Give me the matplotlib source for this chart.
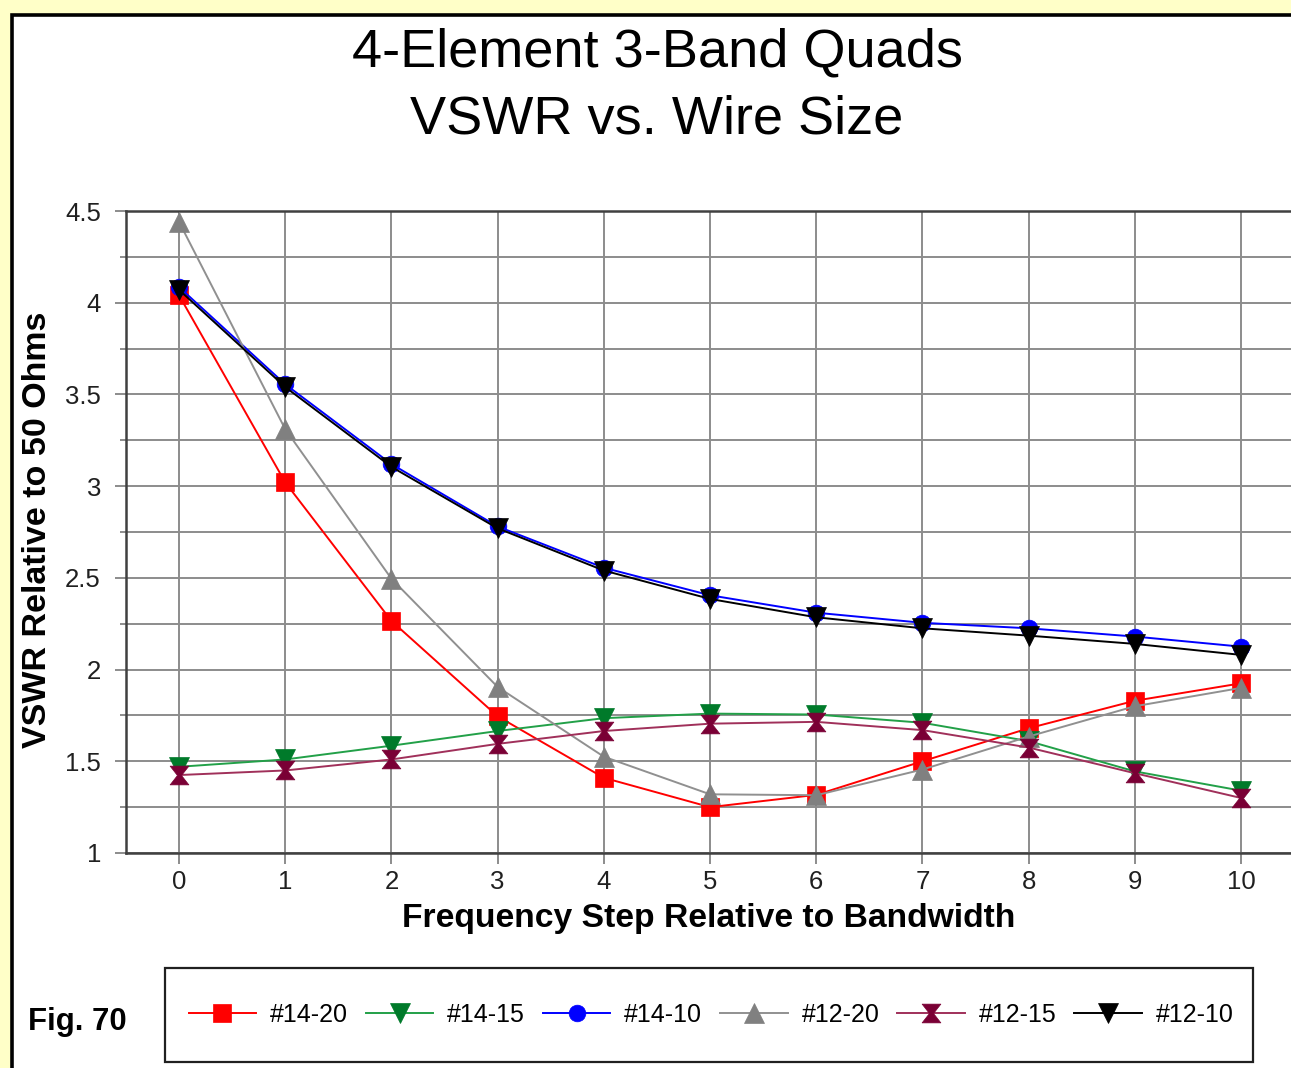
import matplotlib
matplotlib.use("Agg")
import matplotlib.pyplot as plt
from matplotlib.patches import Rectangle
from matplotlib.path import Path
from matplotlib.ticker import MultipleLocator, FuncFormatter

plt.rcParams['font.family'] = ['Liberation Sans', 'DejaVu Sans']

steps = list(range(11))

w14_20 = [4.04, 3.02, 2.265, 1.745, 1.41, 1.25, 1.317, 1.50, 1.68, 1.83, 1.925]
w14_15 = [1.47, 1.51, 1.585, 1.665, 1.735, 1.76, 1.755, 1.71, 1.61, 1.445, 1.34]
w14_10 = [4.085, 3.555, 3.12, 2.78, 2.555, 2.405, 2.31, 2.255, 2.225, 2.18, 2.125]
w12_20 = [4.44, 3.31, 2.495, 1.905, 1.525, 1.32, 1.315, 1.455, 1.635, 1.80, 1.90]
w12_15 = [1.425, 1.45, 1.51, 1.595, 1.665, 1.705, 1.715, 1.67, 1.575, 1.435, 1.30]
w12_10 = [4.07, 3.54, 3.105, 2.77, 2.54, 2.385, 2.285, 2.225, 2.185, 2.14, 2.08]

labels = ['#14-20', '#14-15', '#14-10', '#12-20', '#12-15', '#12-10']

# hourglass marker for #12-15
hourglass = Path([(-1, 1), (1, 1), (0.22, 0), (1, -1), (-1, -1), (-0.22, 0), (-1, 1)],
                 [Path.MOVETO] + [Path.LINETO] * 5 + [Path.CLOSEPOLY])

W, H = 1291, 1068
fig = plt.figure(figsize=(W / 100, H / 100), dpi=100, facecolor='#FFFFC8')

# white panel with black frame on left/top
fig.patches.append(Rectangle((11.5 / W, -0.1), 1.2, 1 - 14.5 / H + 0.1,
                             transform=fig.transFigure, facecolor='white',
                             edgecolor='black', linewidth=2.6, zorder=-5))

ax = fig.add_axes([126 / W, (H - 853) / H, (W - 126) / W, 642 / H])
ax.set_facecolor('white')

series = [
    (w14_20, 'red', 'red', 's', 13),
    (w14_15, '#22A048', '#007A2A', 'v', 14),
    (w14_10, 'blue', 'blue', 'o', 12),
    (w12_20, '#909090', '#808080', '^', 14),
    (w12_15, '#A0305A', '#7A0035', hourglass, 13.5),
    (w12_10, 'black', 'black', 'v', 14),
]

handles = []
for (vals, lc, mc, mk, ms), lab in zip(series, labels):
    h, = ax.plot(steps, vals, color=lc, lw=1.4, marker=mk, markersize=ms,
                 markerfacecolor=mc, markeredgecolor=mc, markeredgewidth=0.5,
                 label=lab, zorder=3, clip_on=False)
    handles.append(h)

ax.set_xlim(-0.5, (W - 179) / 106.2)
ax.set_ylim(1, 4.5)
ax.xaxis.set_major_locator(MultipleLocator(1))
ax.yaxis.set_major_locator(MultipleLocator(0.5))
ax.yaxis.set_minor_locator(MultipleLocator(0.25))
ax.yaxis.set_major_formatter(FuncFormatter(lambda v, p: '%g' % v))

ax.grid(True, which='both', color='#8C8C8C', lw=1.4, zorder=1)
ax.set_axisbelow(True)
for s in ['left', 'bottom', 'top']:
    ax.spines[s].set_color('#404040')
    ax.spines[s].set_linewidth(1.8)
ax.spines['right'].set_visible(False)

ax.tick_params(axis='both', which='major', length=8, width=1.4, color='#8C8C8C',
               labelsize=18.5, labelcolor='#202020')
ax.tick_params(axis='y', which='major', pad=10)
ax.tick_params(axis='x', which='major', pad=4)
ax.tick_params(axis='y', which='minor', length=4, width=1.4, color='#8C8C8C')

fig.text(657 / W, 1 - 86 / H, '4-Element 3-Band Quads\nVSWR vs. Wire Size',
         ha='center', va='center', fontsize=39, linespacing=1.42)
fig.text(709 / W, 1 - 918 / H, 'Frequency Step Relative to Bandwidth',
         ha='center', va='center', fontsize=24.2, fontweight='bold')
fig.text(38 / W, 1 - 530 / H, 'VSWR Relative to 50 Ohms', rotation=90,
         ha='center', va='center', fontsize=24.5, fontweight='bold')
fig.text(28 / W, 1 - 1022 / H, 'Fig. 70', ha='left', va='center',
         fontsize=22.4, fontweight='bold')

# legend box
fig.patches.append(Rectangle((165 / W, 1 - 1062 / H), (1253 - 165) / W, 94 / H,
                             transform=fig.transFigure, facecolor='white',
                             edgecolor='#202020', linewidth=1.6, zorder=1))
leg = fig.legend(handles=handles, loc='center', ncol=6, frameon=False,
                 bbox_to_anchor=(711 / W, 1 - 1015 / H), fontsize=18,
                 handlelength=2.7, handletextpad=0.55, columnspacing=0.72,
                 markerscale=1.0)
leg.set_zorder(5)

fig.savefig('out.png', dpi=100, facecolor=fig.get_facecolor())
